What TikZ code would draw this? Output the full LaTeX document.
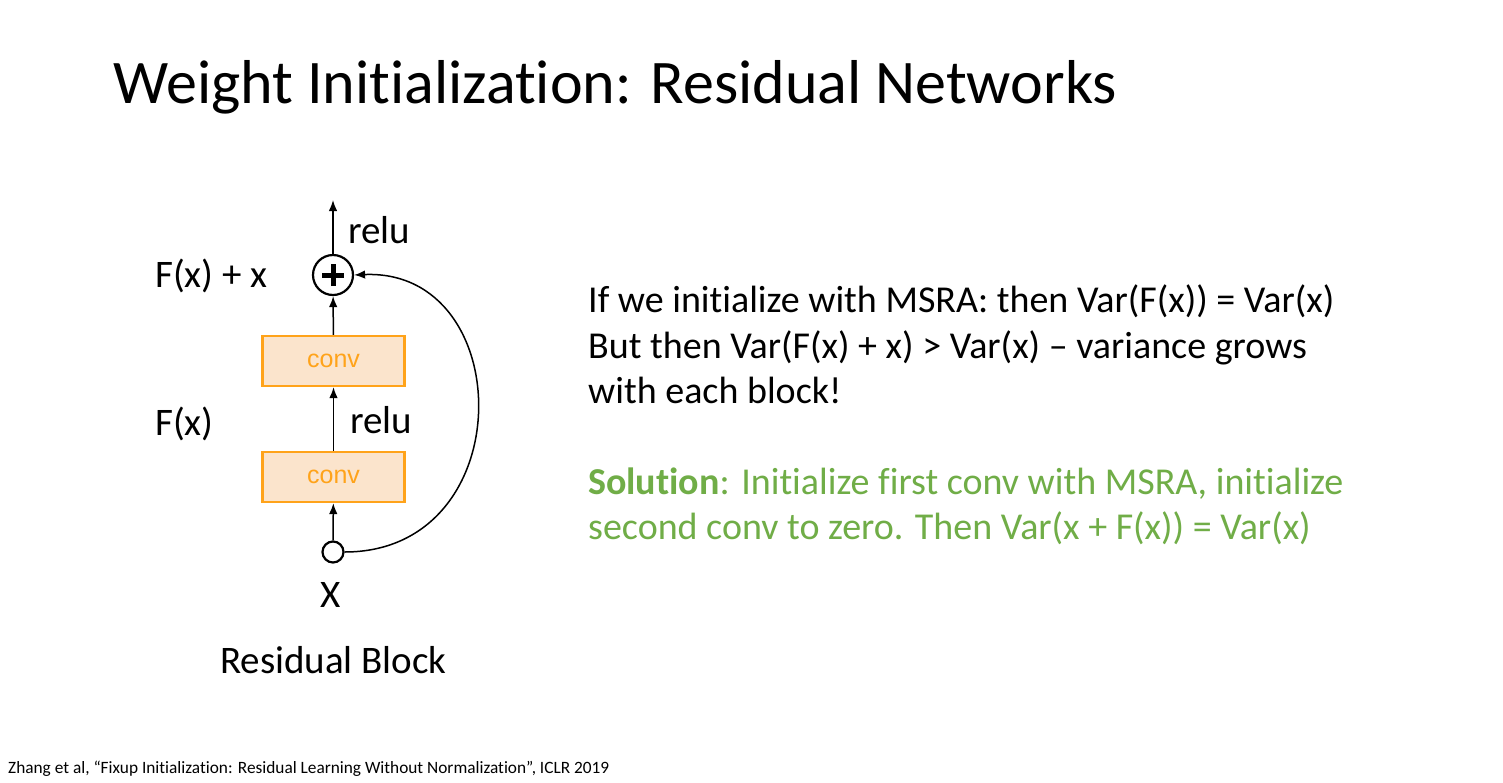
\documentclass[tikz,border=0pt]{standalone}
\usepackage{fontspec}
\setmainfont{Carlito}[Ligatures=NoCommon]
\newfontfamily\convfont{Liberation Sans}
\usetikzlibrary{arrows.meta,positioning}
\definecolor{convorange}{RGB}{255,163,26}
\definecolor{convfill}{RGB}{251,228,204}
\definecolor{solgreen}{RGB}{112,173,71}
\tikzset{
  arr/.style={-{Latex[length=11pt,width=8.5pt]}, line width=1.5pt},
  convbox/.style={draw=convorange, fill=convfill, line width=2.2pt, minimum width=142pt, minimum height=50pt, text=convorange, font=\convfont\fontsize{25}{28}\selectfont},
  lbl/.style={font=\fontsize{39}{40}\selectfont, inner sep=0, anchor=base west},
  body/.style={font=\fontsize{38}{40}\selectfont, inner sep=0, anchor=base west},
}

\begin{document}
\begin{tikzpicture}[x=1pt,y=-1pt]
  \useasboundingbox[fill=white] (0,0) rectangle (1503,782);
  % --- title ---
  \node[inner sep=0, anchor=base west, font=\fontsize{62}{66}\selectfont] (title) at (113,103) {Weight Initialization: Residual Networks};
  % --- residual block ---
  \node[draw, circle, line width=2.2pt, minimum size=40pt, inner sep=0] (plus) at (333,275) {};
  \draw[line width=5pt] ([xshift=-11pt]plus.center) -- ([xshift=11pt]plus.center);
  \draw[line width=5pt] ([yshift=-11pt]plus.center) -- ([yshift=11pt]plus.center);
  \coordinate (out) at (333,200);
  \node[convbox] (conv2) at (333.5,361) {conv};
  \node[convbox] (conv1) at (333.5,477) {conv};
  \node[draw, circle, line width=2.2pt, minimum size=21pt, inner sep=0, fill=white] (inp) at (333,552) {};
  \draw[arr] (plus) -- (out);
  \draw[arr] (conv2) -- (plus);
  \draw[arr] (conv1) -- (conv2);
  \draw[arr] (inp) -- (conv1);
  \draw[arr] (inp.east) .. controls (522,552) and (518,268) .. (plus.east);
  \node[lbl] (relutop) at (348,243) {relu};
  \node[lbl] (relumid) at (350,433) {relu};
  \node[lbl] (fxx) at (155,287) {F(x) + x};
  \node[lbl] (fx) at (155,435) {F(x)};
  \node[lbl, anchor=base] (xin) at (331,607) {X};
  \node[lbl] (block) at (220,673) {Residual Block};
  % --- text ---
  \node[body] (line1) at (588,312) {If we initialize with MSRA: then Var(F(x)) = Var(x)};
  \node[body] (line2) at (588,358) {But then Var(F(x) + x) > Var(x) -- variance grows};
  \node[body] (line3) at (588,403) {with each block!};
  \node[body, text=solgreen] (sol1) at (588,494) {\textbf{Solution}: Initialize first conv with MSRA, initialize};
  \node[body, text=solgreen] (sol2) at (588,539) {second conv to zero. Then Var(x + F(x)) = Var(x)};
  % --- reference ---
  \node[inner sep=0, anchor=base west, font=\fontsize{17.3}{20}\selectfont] (cite) at (8,773) {Zhang et al, “Fixup Initialization: Residual Learning Without Normalization”, ICLR 2019};
\end{tikzpicture}
\end{document}
